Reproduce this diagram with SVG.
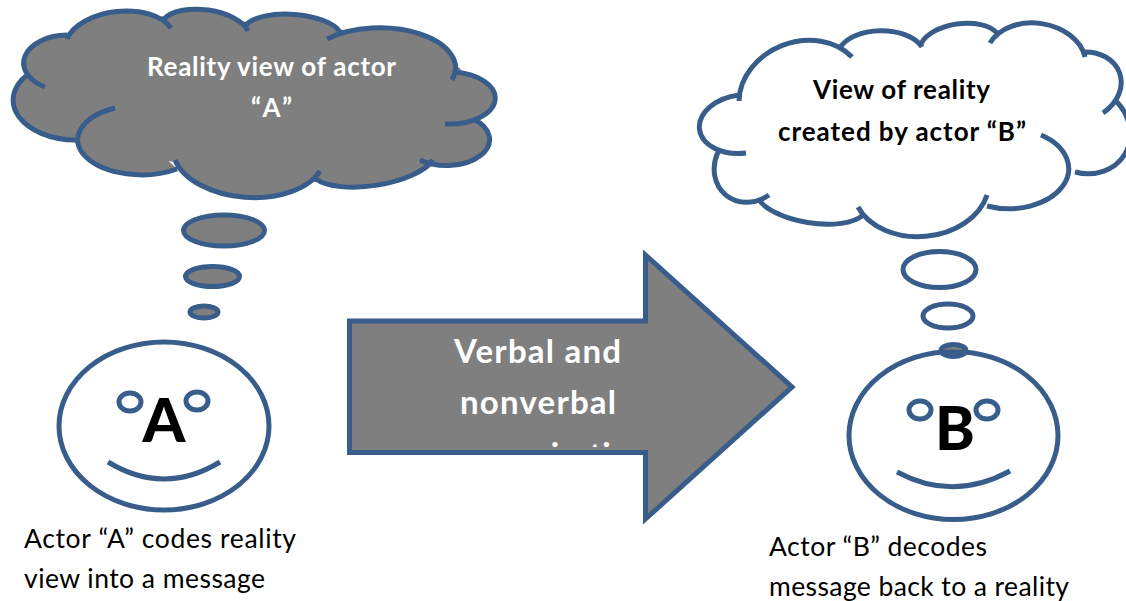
<svg xmlns="http://www.w3.org/2000/svg" width="1126" height="601" viewBox="0 0 1126 601">
<style>
.s{stroke:#385d8a;stroke-width:5;stroke-linecap:butt}
.g{fill:#7f7f7f}.w{fill:#fff}.n{fill:none}
text{font-family:Lato,"Open Sans","Liberation Sans",sans-serif}
.b{font-weight:700;text-anchor:middle}
.l{font-size:26.5px;fill:#000}
</style>
<defs><clipPath id="ac"><rect x="350" y="250" width="450" height="197"/></clipPath></defs>
<rect width="1126" height="601" fill="#fff"/>
<g id="cloud-a">
<path class="g" d="M67 39A55 32 -6 0 1 171 28ZM164 19A44.5 21.6 8 0 1 248 31ZM246 25A49 19.5 4 0 1 340 32ZM327 39A76 40 0 0 1 452 80ZM453 72A46 26 0 0 1 445 124ZM473 119A43 26 0 0 1 420 160ZM433 160A63 24 -9 0 1 316 179ZM320 171A76 45 4 0 1 175 160ZM177 169A64 35 0 1 1 115 108ZM75 140A63 40 0 0 1 27 75ZM45 87A44 28 0 0 1 67 35ZM60 38L164 16L250 22L345 30L460 68L480 125L440 158L316 182L190 165L75 143L24 78Z"/>
<path class="s n" d="M67 39A55 32 -6 0 1 171 28M164 19A44.5 21.6 8 0 1 248 31M246 25A49 19.5 4 0 1 340 32M327 39A76 40 0 0 1 452 80M453 72A46 26 0 0 1 445 124M473 119A43 26 0 0 1 420 160M433 160A63 24 -9 0 1 316 179M320 171A76 45 4 0 1 175 160M177 169A64 35 0 1 1 115 108M75 140A63 40 0 0 1 27 75M45 87A44 28 0 0 1 67 35"/>
<text class="b" x="271.5" y="76" font-size="26" fill="#fff" textLength="249">Reality view of actor</text>
<text class="b" x="271.5" y="117" font-size="26" fill="#fff" textLength="41">“A”</text>
</g>
<g id="cloud-b">
<path class="s n" d="M739 101A64 53 -21 0 1 852 57M840 48A43 24 0 0 1 922 47M921 44A40.5 21.6 -8 0 1 997 33M990 43A50 37 8 0 1 1085 57M1082 52A34 42 71.5 0 1 1103 113M1117 102A43 49 121 0 1 1075 172M1041 135A60 40 0 0 1 987 206M987 195A68 51 -5 0 1 858 207M863 215A55.6 23 9 0 1 758 198M769 195A35 40 40 0 1 718 152M746 153A29 43 83 0 1 739 95"/>
<text class="b" x="901.5" y="99" font-size="26" fill="#000" textLength="177">View of reality</text>
<text class="b" x="902" y="141" font-size="26" fill="#000" textLength="248">created by actor “B”</text>
</g>
<g id="thought-a">
<ellipse class="s g" cx="224" cy="230.5" rx="40.5" ry="15.5"/>
<ellipse class="s g" cx="212.5" cy="276.5" rx="27" ry="10"/>
<ellipse class="s g" cx="204" cy="312" rx="14" ry="6"/>
</g>
<g id="actor-a">
<ellipse class="s w" cx="164" cy="426" rx="105" ry="84"/>
<ellipse class="s w" cx="130" cy="402" rx="11" ry="9"/>
<ellipse class="s w" cx="197" cy="401" rx="11" ry="9"/>
<path class="s n" d="M108 462Q164 496 220 462"/>
<text x="164" y="442" font-size="61" font-weight="900" text-anchor="middle" fill="#000">A</text>
</g>
<g id="actor-b">
<ellipse class="s w" cx="953.5" cy="435.5" rx="104.5" ry="84"/>
<ellipse class="s w" cx="920" cy="410" rx="11" ry="9"/>
<ellipse class="s w" cx="987" cy="410" rx="11" ry="9"/>
<path class="s n" d="M897 472Q953 502 1010 471"/>
<text x="955" y="450" font-size="60" font-weight="900" text-anchor="middle" fill="#000">B</text>
</g>
<g id="thought-b">
<ellipse class="s w" cx="939.5" cy="269.5" rx="36.5" ry="18"/>
<ellipse class="s w" cx="948" cy="316" rx="25" ry="12"/>
<ellipse class="s g" cx="953.5" cy="350.5" rx="12.5" ry="6"/>
<path class="s n" d="M941 353Q953 351 966 353"/>
</g>
<g id="arrow">
<path class="s g" d="M349.5 321H645.5V255L792 387L645.5 519V452.5H349.5Z"/>
<g clip-path="url(#ac)">
<text class="b" x="537.5" y="363" font-size="33" fill="#fff" textLength="167">Verbal and</text>
<text class="b" x="538" y="414" font-size="33" fill="#fff" textLength="156">nonverbal</text>
<text class="b" x="537.5" y="466" font-size="33" fill="#fff" textLength="218">communication</text>
</g>
</g>
<g id="labels">
<text class="l" x="24" y="548" textLength="272">Actor “A” codes reality</text>
<text class="l" x="24" y="588" textLength="241">view into a message</text>
<text class="l" x="769" y="556" textLength="218">Actor “B” decodes</text>
<text class="l" x="769" y="596" textLength="300">message back to a reality</text>
</g>
<g id="connectors"/>
</svg>
